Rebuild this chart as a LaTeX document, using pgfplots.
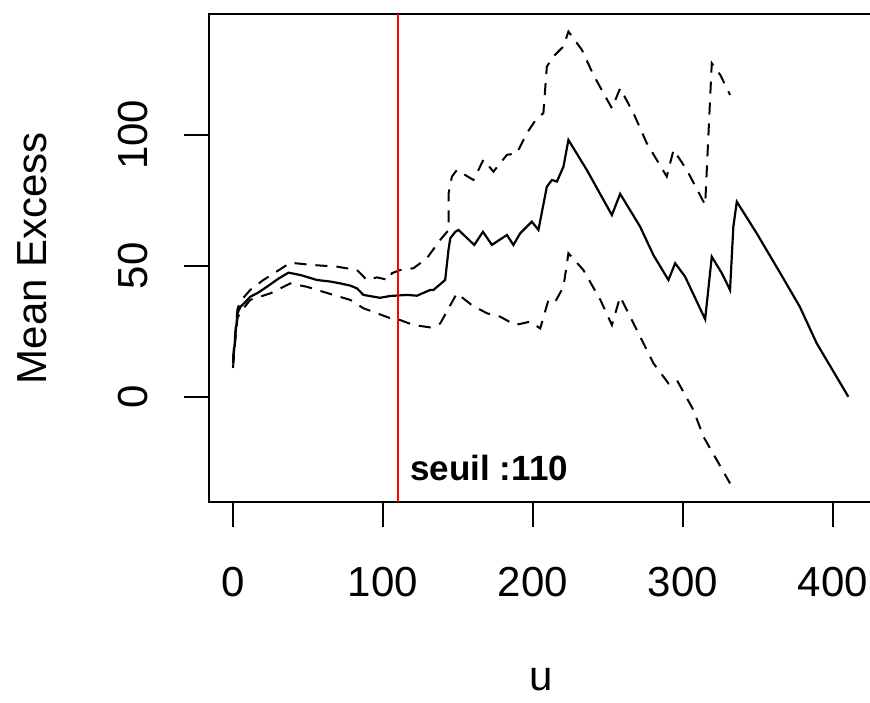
\documentclass[border=0pt]{standalone}
\usepackage{fontspec}
\setmainfont{Liberation Sans}
\usepackage{pgfplots}
\pgfplotsset{compat=1.18}
\begin{document}
\begin{tikzpicture}
\begin{axis}[
  scale only axis, width=665pt, height=488pt,
  at={(0,0)}, anchor=south west,
  xmin=-16, xmax=427.5, ymin=-40.2, ymax=146.2,
  xtick={0,100,200,300,400}, ytick={0,50,100},
  tick align=outside, major tick length=25pt, tick pos=left,
  axis line style={line width=2pt, black},
  every tick/.style={line width=2pt, black},
  /pgf/number format/assume math mode=true,
  ticklabel style={font=\fontsize{42}{50}\selectfont},
  xticklabel style={anchor=base},
  xticklabel shift=69pt,
  yticklabel style={rotate=90, anchor=base},
  yticklabel shift=36pt,
  xlabel={u}, ylabel={Mean Excess},
  label style={font=\fontsize{42}{50}\selectfont},
  xlabel style={at={(axis description cs:0.5,-0.386)}, anchor=base, inner sep=0pt},
  ylabel style={at={(axis description cs:-0.2436,0.5)}, anchor=base},
]
\addplot[black, line width=2.2pt] coordinates {
(0,12.8) (1.5,22.9) (3,31.9) (5,34.4) (8,36) (11.5,38.2) (16,39.5) (22.6,42) (30,45) (37,47.4) (45,46.5) (56,44.6) (65,44) (71.5,43.3) (78,42.5) (82.7,41.4) (87,38.9) (98,37.8) (105,38.5) (116,38.9) (122.7,38.6) (131.5,40.8) (133.7,40.8) (141.5,44.6) (143.7,56) (144.9,60.5) (148.2,63) (150.4,63.7) (160.9,58) (166.7,63) (172.7,58) (182.7,61.8) (187,58) (191.5,62.4) (199.3,66.9) (203.7,63.7) (209.3,80.2) (212.7,82.8) (216,82.2) (220.4,87.9) (223.7,98.1) (236,86.6) (252.7,69.4) (258.2,77.5) (271.5,65) (280.4,54.1) (290.4,44.6) (294.9,51) (301.5,45.9) (314.9,29.6) (319.3,53.5) (326,47.2) (331.5,40.8) (333.7,65) (336,74.5) (349.3,62.4) (365,47.2) (378,34.4) (389.3,20.4) (410.4,0)
};
\addplot[black, line width=2pt, dash pattern=on 12pt off 9pt] coordinates {
(0,14.5) (1.5,24.5) (3,33.5) (5,36.5) (8,38.5) (11.5,40.8) (20,44.5) (31.5,48.7) (38.2,51.2) (53.7,50.3) (69.3,49.7) (82.7,48.4) (89.3,44.6) (96,45.6) (103.7,44.6) (106,47.2) (111.5,48.4) (120.4,49.1) (129.3,52.9) (138.2,59.9) (143.8,63.7) (143.8,77.7) (146,84.1) (149.3,86.6) (160.4,82.8) (167,90.5) (173.7,86) (182.7,92.4) (189.3,93) (196,100.7) (202.7,106.4) (207,108.3) (209.3,126.1) (213.7,130) (220.4,133.8) (223.7,139.5) (232.7,132.5) (240.4,122.9) (252.7,110.2) (258.2,117.8) (267.1,108.3) (276,96.8) (289.3,84.1) (293.8,94.3) (302.7,86.6) (314.9,73.3) (319.3,127.4) (325,122.9) (331.5,115.3)
};
\addplot[black, line width=2pt, dash pattern=on 12pt off 9pt] coordinates {
(0,11) (1.5,21) (3,30) (5,32.5) (8,34.5) (11.5,37) (24.9,39.5) (38.2,43.3) (49.3,42) (67,38.9) (78.2,37) (87,33.8) (96,31.9) (104.9,30) (111.5,29.3) (120.4,27.4) (131.5,26.5) (138.2,28) (143.8,33.8) (149.3,39.5) (159.3,35) (169.3,31.9) (178.2,30.6) (188.2,27.4) (198.2,28.7) (204.9,26.1) (210.4,37) (214.9,36.3) (220.4,42) (223.7,54.8) (233.7,48.4) (245,37) (252.7,27.4) (258.2,38.2) (269.3,25.5) (280.4,12.8) (290.4,5.1) (296,6.4) (307.1,-5.1) (313.8,-15.3) (322.7,-24.2) (331.5,-33.1)
};
\addplot[red, line width=2pt] coordinates {(110,-40.2) (110,146.2)};
\node[anchor=base west, font=\fontsize{35}{42}\selectfont\bfseries] at (axis cs:116,-31.8) {seuil :110};
\end{axis}
\pgfresetboundingbox
\useasboundingbox (-209pt,-200pt) rectangle (661pt,502pt);
\end{tikzpicture}
\end{document}
